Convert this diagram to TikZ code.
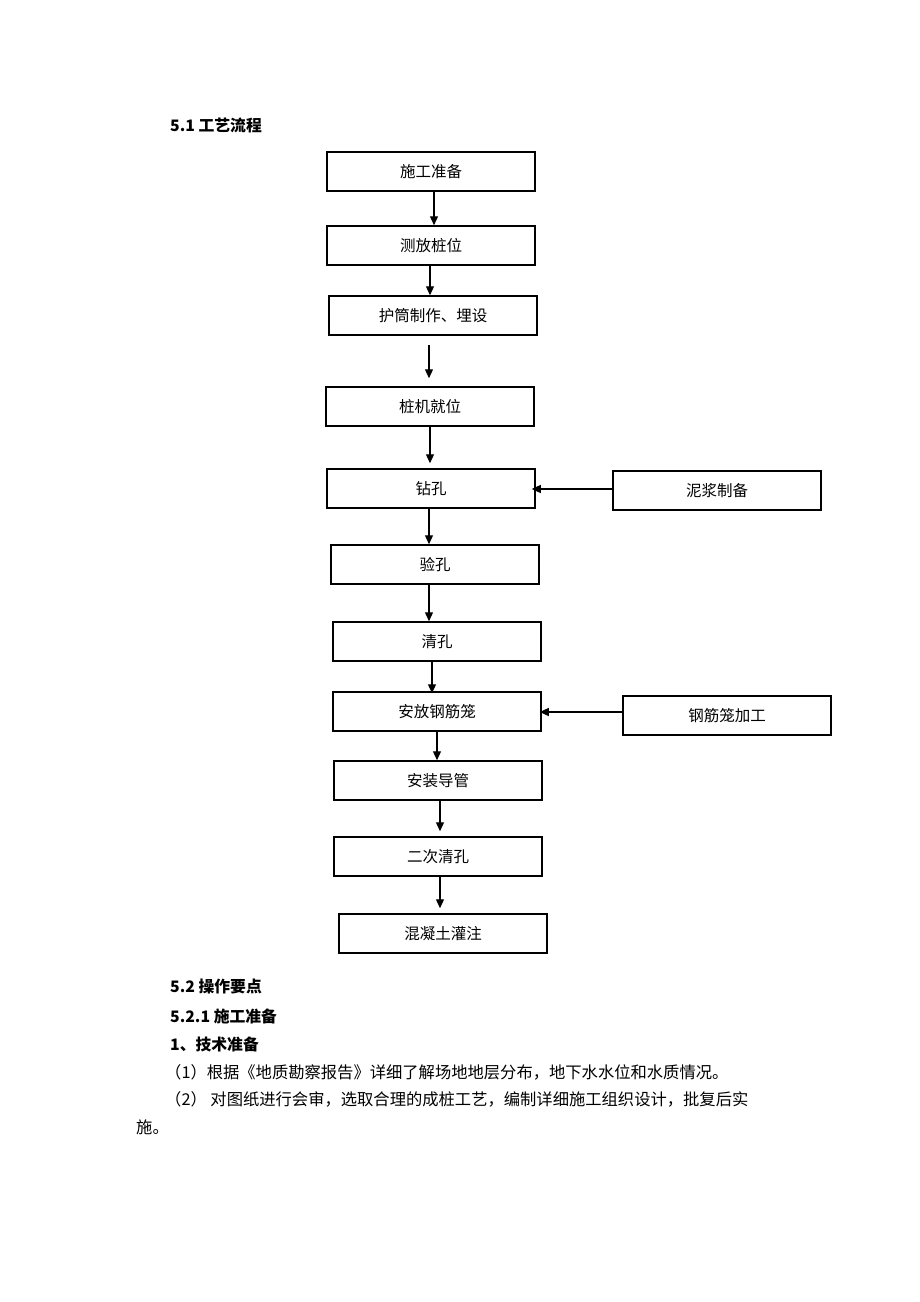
\documentclass[tikz,border=0pt]{standalone}
\usepackage{fontspec}
\setmainfont{Noto Sans CJK SC}
\usetikzlibrary{arrows.meta}
\tikzset{
  box/.style={draw=black, line width=1.5pt, minimum width=208pt, minimum height=39pt, inner sep=0pt, font=\fontsize{15.5}{17}\selectfont},
  arr/.style={line width=1.2pt, -{Triangle[length=9pt,width=8pt]}},
  head/.style={anchor=west, inner sep=0pt, font=\fontsize{15.8}{17}\selectfont\bfseries},
  body/.style={anchor=west, inner sep=0pt, font=\fontsize{16.3}{18}\selectfont}
}
\begin{document}
\begin{tikzpicture}[x=1pt, y=-1pt]
\useasboundingbox[fill=white] (0,0) rectangle (920,1302);
% title
\node[head] (t1) at (170,125) {5.1 工艺流程};
% main boxes
\node[box] (b1) at (431,171.5) {施工准备};
\node[box] (b2) at (431,245.5) {测放桩位};
\node[box] (b3) at (433,315.5) {护筒制作、埋设};
\node[box] (b4) at (430,406.5) {桩机就位};
\node[box] (b5) at (431,488.5) {钻孔};
\node[box] (m1) at (717,490.5) {泥浆制备};
\node[box] (b6) at (435,564.5) {验孔};
\node[box] (b7) at (437,641.5) {清孔};
\node[box] (b8) at (437,711.5) {安放钢筋笼};
\node[box] (m2) at (727,715.5) {钢筋笼加工};
\node[box] (b9) at (438,780.5) {安装导管};
\node[box] (b10) at (438,856.5) {二次清孔};
\node[box] (b11) at (443,933.5) {混凝土灌注};
% connectors
\draw[arr] (b1.south -| 434,0) -- (b2.north -| 434,0);
\draw[arr] (b2.south -| 430,0) -- (b3.north -| 430,0);
\draw[arr] ([yshift=-9pt]b3.south -| 429,0) -- ([yshift=8pt]b4.north -| 429,0);
\draw[arr] (b4.south -| 430,0) -- ([yshift=5pt]b5.north -| 430,0);
\draw[arr] (m1.west |- 0,489) -- ([xshift=-4pt]b5.east |- 0,489);
\draw[arr] (b5.south -| 429,0) -- (b6.north -| 429,0);
\draw[arr] (b6.south -| 429,0) -- (b7.north -| 429,0);
\draw[arr] (b7.south -| 432,0) -- ([yshift=-2pt]b8.north -| 432,0);
\draw[arr] (m2.west |- 0,712) -- ([xshift=-2pt]b8.east |- 0,712);
\draw[arr] (b8.south -| 437,0) -- (b9.north -| 437,0);
\draw[arr] (b9.south -| 440,0) -- ([yshift=5pt]b10.north -| 440,0);
\draw[arr] (b10.south -| 440,0) -- ([yshift=5pt]b11.north -| 440,0);
% text below
\node[head] (h1) at (170,987) {5.2 操作要点};
\node[head] (h2) at (170,1016) {5.2.1 施工准备};
\node[head] (h3) at (170,1044) {1、技术准备};
\node[body] (p1) at (165,1072) {（1）根据《地质勘察报告》详细了解场地地层分布，地下水水位和水质情况。};
\node[body] (p2) at (165,1099) {（2） 对图纸进行会审，选取合理的成桩工艺，编制详细施工组织设计，批复后实};
\node[body] (p3) at (136,1127) {施。};
\end{tikzpicture}
\end{document}
